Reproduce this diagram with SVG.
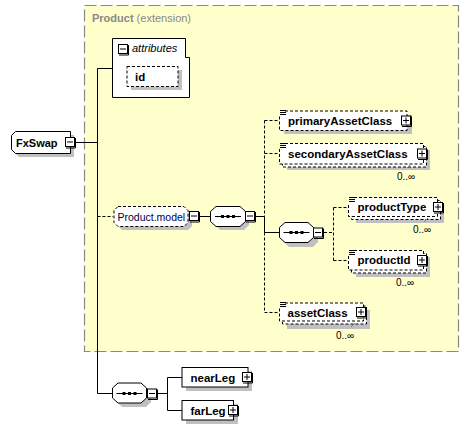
<svg xmlns="http://www.w3.org/2000/svg" xmlns:xlink="http://www.w3.org/1999/xlink" width="469" height="430" viewBox="0 0 469 430">
<style>
.sh{fill:#c0c0c0;stroke:none}
.solid{fill:#fff;stroke:#000;stroke-width:1}
.dash{fill:#fff;stroke:#000;stroke-width:1;stroke-dasharray:3,2}
.ln{fill:none;stroke:#000;stroke-width:1}
.dln{fill:none;stroke:#000;stroke-width:1;stroke-dasharray:3,2}
.lbl{font-family:"Liberation Sans",Arial,sans-serif;font-size:11.5px;font-weight:bold;fill:#000}
.occ{font-family:"Liberation Sans",Arial,sans-serif;font-size:10px;fill:#000}
</style>
<defs>
<g id="minus"><rect x="0.5" y="0.5" width="9" height="9" fill="#fff" stroke="#000"/><path d="M10.5,1V11H1" fill="none" stroke="#000"/><path d="M2,5H8" stroke="#000"/></g>
<g id="plus"><rect x="0.5" y="0.5" width="9" height="9" fill="#fff" stroke="#000"/><path d="M10.5,1V11H1" fill="none" stroke="#000"/><path d="M2,5H8M5,2V8" stroke="#000"/></g>
<g id="seqdots"><path d="M-13,0.5H13" stroke="#000"/><rect x="-7" y="-1" width="3" height="3" fill="#000"/><rect x="-1.5" y="-1" width="3" height="3" fill="#000"/><rect x="4" y="-1" width="3" height="3" fill="#000"/></g>
<g id="docico"><path d="M0,0H6M0,2H6M0,4H6" stroke="#000" stroke-width="1"/></g>
</defs>

<g id="product-extension">
<rect x="84.5" y="5.5" width="374" height="346" fill="#ffffcc" stroke="#888" stroke-width="1.2" stroke-dasharray="12,4"/>
<text x="92" y="22" font-family="Liberation Sans,Arial,sans-serif" font-size="11px" fill="#888"><tspan font-weight="bold">Product</tspan> (extension)</text>
</g>

<g id="connectors">
<path class="ln" d="M75,142.5H97.5M97.5,68.5V393.5M97.5,68.5H112M97.5,393.5H112"/>
<path class="dln" d="M97.5,216.5H113"/>
<path class="ln" d="M200,216.5H210M256,216.5H264.5"/>
<path class="dln" d="M264.5,120.5V216.5M264.5,232.5V312.5M264.5,120.5H279M264.5,153.5H279M264.5,312.5H279"/>
<path class="ln" d="M264.5,216.5V232.5H279"/>
<path class="dln" d="M324,232.5H333.5M333.5,207.5V260.5M333.5,207.5H348M333.5,260.5H348"/>
<path class="ln" d="M158,393.5H167.5M167.5,377.5V410.5M167.5,377.5H182M167.5,410.5H182"/>
</g>

<g id="FxSwap">
<path class="sh" d="M19,135H74V157H19L15,153V139Z"/>
<path class="solid" d="M15.5,131.5H70.5V153.5H15.5L11.5,149.5V135.5Z"/>
<text class="lbl" x="16" y="146.5" style="font-size:11px">FxSwap</text>
<use xlink:href="#minus" x="65" y="137"/>
</g>

<g id="attributes">
<path class="solid" d="M112.5,38.5H185.5V57.5H189.5V97.5H112.5Z"/>
<use xlink:href="#minus" x="118" y="44"/>
<text x="132" y="52" font-family="Liberation Sans,Arial,sans-serif" font-size="11px" font-style="italic">attributes</text>
</g>

<g id="id">
<rect class="sh" x="131" y="70" width="51" height="20"/>
<rect class="dash" x="127" y="66.5" width="51" height="20"/>
<text class="lbl" x="135" y="80.5">id</text>
</g>

<g id="Product.model">
<path class="sh" d="M122,210H188L192,214V226L188,230H122L118,226V214Z"/>
<path class="dash" d="M118,206.5H184L188,210.5V222.5L184,226.5H118L114,222.5V210.5Z"/>
<text x="117.5" y="220.5" font-family="Liberation Sans,Arial,sans-serif" font-size="10.5px" fill="#000050">Product.model</text>
<use xlink:href="#minus" x="189" y="211"/>
</g>

<g id="sequence1">
<path class="sh" d="M220,210H244L249,215V225L244,230H220L215,225V215Z"/>
<path class="solid" d="M216,206.5H240L245.5,211.5V221.5L240,226.5H216L210.5,221.5V211.5Z"/>
<use xlink:href="#seqdots" x="228" y="216"/>
<use xlink:href="#minus" x="245" y="211"/>
</g>

<g id="primaryAssetClass">
<rect class="sh" x="284" y="115" width="128" height="19"/>
<path class="dash" d="M285,111H407V130.5H279.5V116"/>
<use xlink:href="#docico" x="280" y="110.5"/>
<text class="lbl" x="288" y="124.5">primaryAssetClass</text>
<use xlink:href="#plus" x="401" y="115.5"/>
</g>

<g id="secondaryAssetClass">
<rect class="sh" x="287" y="150" width="143" height="20"/>
<rect class="dash" x="282.5" y="146.5" width="144" height="20.5"/>
<path class="dash" d="M285,143.5H423.5V164H279.5V149"/>
<use xlink:href="#docico" x="280" y="143.5"/>
<text class="lbl" x="288" y="157.5">secondaryAssetClass</text>
<use xlink:href="#plus" x="417" y="148.5"/>
<path d="M407,168L411,164" stroke="#808080" fill="none"/>
<text class="occ" x="397" y="180">0..∞</text>
</g>

<g id="sequence2">
<path class="sh" d="M289,227H313L318,232V242L313,247H289L284,242V232Z"/>
<path class="solid" d="M285,222.5H308L313.5,227.5V237.5L308,242.5H285L279.5,237.5V227.5Z"/>
<use xlink:href="#seqdots" x="296.5" y="232"/>
<use xlink:href="#minus" x="313" y="227.5"/>
</g>

<g id="productType">
<rect class="sh" x="356" y="204" width="88" height="19"/>
<rect class="dash" x="351.5" y="200.5" width="89" height="19"/>
<path class="dash" d="M354,197.5H437.5V216.5H348.5V203"/>
<use xlink:href="#docico" x="349" y="197.5"/>
<text class="lbl" x="357.5" y="211">productType</text>
<use xlink:href="#plus" x="433" y="202"/>
<path d="M424,222L428,218" stroke="#808080" fill="none"/>
<text class="occ" x="413" y="233">0..∞</text>
</g>

<g id="productId">
<rect class="sh" x="356" y="257" width="74" height="20"/>
<rect class="dash" x="351.5" y="253.5" width="75" height="19.5"/>
<path class="dash" d="M354,250.5H423.5V270H348.5V256"/>
<use xlink:href="#docico" x="349" y="250.5"/>
<text class="lbl" x="357.5" y="264">productId</text>
<use xlink:href="#plus" x="417" y="255"/>
<path d="M408,274L412,270" stroke="#808080" fill="none"/>
<text class="occ" x="396" y="286">0..∞</text>
</g>

<g id="assetClass">
<rect class="sh" x="287" y="310" width="83" height="19"/>
<rect class="dash" x="282.5" y="306" width="84" height="18"/>
<path class="dash" d="M285,303H363.5V321H279.5V308"/>
<use xlink:href="#docico" x="280" y="302.5"/>
<text class="lbl" x="287.5" y="316.5">assetClass</text>
<use xlink:href="#plus" x="356" y="307"/>
<path d="M351,327L355,323" stroke="#808080" fill="none"/>
<text class="occ" x="336" y="339">0..∞</text>
</g>

<g id="sequence3">
<path class="sh" d="M122,387H146L151,392V402L146,407H122L117,402V392Z"/>
<path class="solid" d="M118,383H141L146.5,388V398L141,403H118L112.5,398V388Z"/>
<use xlink:href="#seqdots" x="129.5" y="393"/>
<use xlink:href="#minus" x="147" y="388.5"/>
</g>

<g id="nearLeg">
<rect class="sh" x="186" y="371" width="66" height="20"/>
<rect class="solid" x="182" y="367.5" width="66" height="19.5"/>
<text class="lbl" x="190.5" y="381.5">nearLeg</text>
<use xlink:href="#plus" x="242" y="372"/>
</g>

<g id="farLeg">
<rect class="sh" x="186" y="404" width="52" height="20"/>
<rect class="solid" x="182" y="400.5" width="51.5" height="19.5"/>
<text class="lbl" x="190.5" y="414.5">farLeg</text>
<use xlink:href="#plus" x="228" y="405"/>
</g>
</svg>
